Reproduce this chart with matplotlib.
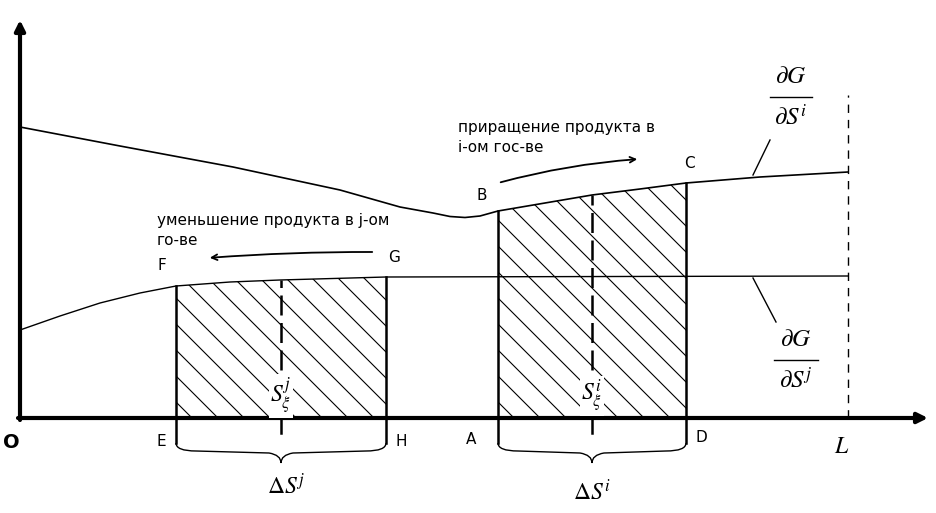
import numpy as np
import matplotlib.pyplot as plt
from matplotlib.patches import Polygon, PathPatch
from matplotlib.path import Path

plt.rcParams["mathtext.fontset"] = "stix"

# ------------------------------------------------------------
# Geometrie des Schemas (Einheiten: Ursprung O = (0, 0))
# ------------------------------------------------------------
upper_x = [0, 100, 213, 320, 380, 413, 430, 445, 460, 478, 525, 572, 620,
           666, 740, 828]
upper_y = [291, 272, 251, 228, 211, 205, 201.5, 200.5, 202, 207, 215, 223,
           229, 235, 241, 246]

lower_x = [0, 40, 80, 120, 156, 210, 260, 366, 828]
lower_y = [88, 102, 115, 125, 132, 136, 138, 141, 142]

box_j = (156, 366)   # E, H
box_i = (478, 666)   # A, D
x_L = 828
x_end = 908
y_top = 398

label_pos = {
    "E": (141, -23), "H": (381, -23), "A": (451, -22), "D": (681, -20),
    "F": (142, 152), "G": (374, 160), "B": (462, 223), "C": (669, 254),
}

fig = plt.figure(figsize=(9.37, 5.13), dpi=100)
ax = fig.add_axes([0, 0, 1, 1])
ax.set_xlim(-20, 917)
ax.set_ylim(-95, 418)
ax.axis("off")


def curve_at(x, xs, ys):
    return np.interp(x, xs, ys)


# Kurven
ax.plot(upper_x, upper_y, color="black", lw=1.2)
ax.plot(lower_x, lower_y, color="black", lw=1.0)

# Senkrechte Linie bei L
ax.plot([x_L, x_L], [0, 323], color="black", lw=1.0, ls=(0, (6, 5)))


def draw_box(x0, x1, xs, ys):
    xx = np.linspace(x0, x1, 60)
    yy = curve_at(xx, xs, ys)
    verts = [(x0, 0)] + list(zip(xx, yy)) + [(x1, 0)]
    poly = Polygon(verts, closed=True, fill=False, edgecolor="none")
    ax.add_patch(poly)
    # Schraffur
    for c in np.arange(x0 - 10, x1 + 400, 26):
        ln, = ax.plot([c - 400, c], [400, 0], color="black", lw=0.8)
        ln.set_clip_path(poly)
    # Raender
    ax.plot([x0, x0], [-25, curve_at(x0, xs, ys)], color="black", lw=1.8)
    ax.plot([x1, x1], [-25, curve_at(x1, xs, ys)], color="black", lw=1.8)
    xm = (x0 + x1) / 2
    ax.plot([xm, xm], [48, curve_at(xm, xs, ys)], color="black", lw=1.8,
            ls=(0, (8, 3)))
    ax.plot([xm, xm], [0, -15], color="black", lw=1.8)
    # geschweifte Klammer
    yb = -25
    brace = Path(
        [(x0, yb), (x0, yb - 8), (x0 + 20, yb - 8), (xm - 12, yb - 10),
         (xm, yb - 12), (xm, yb - 20),
         (xm, yb - 12), (xm + 12, yb - 10), (x1 - 20, yb - 8),
         (x1, yb - 8), (x1, yb)],
        [Path.MOVETO, Path.CURVE3, Path.CURVE3, Path.LINETO,
         Path.CURVE3, Path.CURVE3,
         Path.CURVE3, Path.CURVE3, Path.LINETO,
         Path.CURVE3, Path.CURVE3],
    )
    ax.add_patch(PathPatch(brace, fill=False, edgecolor="black", lw=1.0))
    return xm


xm_j = draw_box(box_j[0], box_j[1], lower_x, lower_y)
xm_i = draw_box(box_i[0], box_i[1], upper_x, upper_y)

# Achsen
ax.annotate("", xy=(0, y_top), xytext=(0, -2),
            arrowprops=dict(arrowstyle="-|>,head_length=0.6,head_width=0.3",
                            lw=3, color="black", shrinkA=0, shrinkB=0))
ax.annotate("", xy=(x_end, 0), xytext=(-2, 0),
            arrowprops=dict(arrowstyle="-|>,head_length=0.6,head_width=0.3",
                            lw=3, color="black", shrinkA=0, shrinkB=0))

# Punktbezeichnungen
for name, (px, py) in label_pos.items():
    ax.text(px, py, name, fontsize=11, ha="center", va="center",
            family="DejaVu Sans")
ax.text(-9, -25, "O", fontsize=14, ha="center", va="center",
        family="DejaVu Sans", fontweight="bold")
ax.text(822, -28, "$L$", fontsize=17, ha="center", va="center")

# Mittelpunkte
ax.text(xm_j, 22, r"$S^{j}_{\xi}$", fontsize=17, ha="center", va="center",
        bbox=dict(facecolor="white", edgecolor="none", pad=1))
ax.text(xm_i, 22, r"$S^{i}_{\xi}$", fontsize=17, ha="center", va="center",
        bbox=dict(facecolor="white", edgecolor="none", pad=1))
ax.text(xm_j + 5, -68, r"$\Delta S^{j}$", fontsize=17, ha="center", va="center")
ax.text(xm_i, -74, r"$\Delta S^{i}$", fontsize=17, ha="center", va="center")


# Ableitungen
def derivative(xc, yc, sup, half):
    ax.text(xc, yc + 21, r"$\partial G$", fontsize=18, ha="center",
            va="center")
    ax.plot([xc - half, xc + half], [yc, yc], color="black", lw=1.0)
    ax.text(xc, yc - 20, r"$\partial S^{%s}$" % sup, fontsize=18,
            ha="center", va="center")


derivative(771, 321, "i", 21)
ax.plot([750, 733], [278, 243], color="black", lw=1.0)
derivative(776, 58, "j", 22)
ax.plot([733, 756], [140, 96], color="black", lw=1.0)

# Beschriftungen mit Pfeilen
ax.text(438, 298, "приращение продукта в\ni-ом гос-ве", fontsize=11,
        ha="left", va="top", family="DejaVu Sans", linespacing=1.4)
ax.annotate("", xy=(620, 259), xytext=(478, 235),
            arrowprops=dict(arrowstyle="->", lw=1.3, color="black",
                            connectionstyle="arc3,rad=-0.05"))
ax.text(137, 205, "уменьшение продукта в j-ом\nго-ве", fontsize=11,
        ha="left", va="top", family="DejaVu Sans", linespacing=1.4)
ax.annotate("", xy=(187, 160), xytext=(355, 166),
            arrowprops=dict(arrowstyle="->", lw=1.3, color="black",
                            connectionstyle="arc3,rad=0.02"))

fig.savefig("out.png", dpi=100)
